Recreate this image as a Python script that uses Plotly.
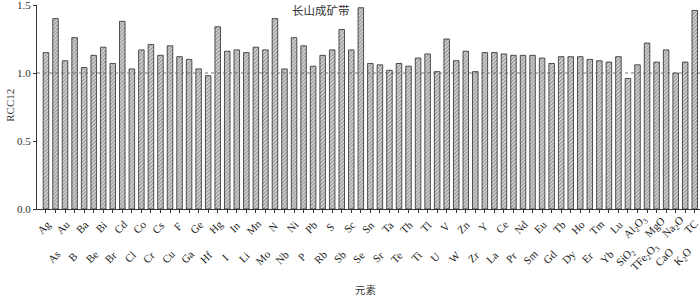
import plotly.graph_objects as go

elements = ["Ag", "As", "Au", "B", "Ba", "Be", "Bi", "Br", "Cd", "Cl", "Co", "Cr", "Cs", "Cu", "F", "Ga", "Ge", "Hf",
            "Hg", "I", "In", "Li", "Mn", "Mo", "N", "Nb", "Ni", "P", "Pb", "Rb", "S", "Sb", "Sc", "Se", "Sn", "Sr",
            "Ta", "Te", "Th", "Ti", "Tl", "U", "V", "W", "Zn", "Zr", "Y", "La", "Ce", "Pr", "Nd", "Sm", "Eu", "Gd",
            "Tb", "Dy", "Ho", "Er", "Tm", "Yb", "Lu", "SiO2", "Al2O3", "TFe2O3", "MgO", "CaO", "Na2O", "K2O", "TC"]

tick_labels = ["Ag", "As", "Au", "B", "Ba", "Be", "Bi", "Br", "Cd", "Cl", "Co", "Cr", "Cs", "Cu", "F", "Ga", "Ge", "Hf",
               "Hg", "I", "In", "Li", "Mn", "Mo", "N", "Nb", "Ni", "P", "Pb", "Rb", "S", "Sb", "Sc", "Se", "Sn", "Sr",
               "Ta", "Te", "Th", "Ti", "Tl", "U", "V", "W", "Zn", "Zr", "Y", "La", "Ce", "Pr", "Nd", "Sm", "Eu", "Gd",
               "Tb", "Dy", "Ho", "Er", "Tm", "Yb", "Lu", "SiO<sub>2</sub>", "Al<sub>2</sub>O<sub>3</sub>",
               "TFe<sub>2</sub>O<sub>3</sub>", "MgO", "CaO", "Na<sub>2</sub>O", "K<sub>2</sub>O", "TC"]

rcc12 = [1.15, 1.40, 1.09, 1.26, 1.04, 1.13, 1.19, 1.07, 1.38, 1.03, 1.17, 1.21, 1.13, 1.20, 1.12, 1.10, 1.03, 0.98,
         1.34, 1.16, 1.17, 1.15, 1.19, 1.17, 1.40, 1.03, 1.26, 1.20, 1.05, 1.13, 1.17, 1.32, 1.17, 1.48, 1.07, 1.06,
         1.02, 1.07, 1.05, 1.11, 1.14, 1.01, 1.25, 1.09, 1.16, 1.01, 1.15, 1.15, 1.14, 1.13, 1.13, 1.13, 1.11, 1.07,
         1.12, 1.12, 1.12, 1.10, 1.09, 1.08, 1.12, 0.96, 1.06, 1.22, 1.08, 1.17, 1.00, 1.08, 1.46]

reference_level = 1.0
title_text = "长山成矿带"
x_title = "元素"
y_title = "RCC12"

serif = "Liberation Serif, Times New Roman, serif"
cjk = "Noto Sans CJK SC"

x_idx = list(range(len(elements)))

fig = go.Figure()
fig.add_trace(go.Bar(
    x=x_idx, y=rcc12,
    width=0.58,
    marker=dict(
        color="#d0d0d0",
        line=dict(color="#2a2a2a", width=0.8),
        pattern=dict(shape="/", size=2.6, solidity=0.5, fgcolor="#3a3a3a", bgcolor="#e4e4e4"),
    ),
    showlegend=False,
    hovertext=elements,
))

fig.add_shape(type="line", xref="paper", yref="y", x0=0, x1=1, y0=reference_level, y1=reference_level,
              line=dict(color="#707070", width=1, dash="dot"))

annotations = []
n = len(tick_labels)
for i, lab in enumerate(tick_labels):
    upper = (i % 2 == 0)
    annotations.append(dict(
        x=i, y=-0.088 if upper else -0.235, xref="x", yref="paper",
        text=lab, showarrow=False, textangle=-45,
        xanchor="center", yanchor="middle", xshift=-4 if i == n - 1 else -2,
        font=dict(family=serif, size=11, color="#222"),
    ))
annotations.append(dict(x=0.428, y=0.975, xref="paper", yref="paper", text=title_text, showarrow=False,
                        xanchor="center", yanchor="middle", font=dict(family=cjk, size=11.5, color="#333")))
annotations.append(dict(x=0.495, y=-0.397, xref="paper", yref="paper", text=x_title, showarrow=False,
                        xanchor="center", yanchor="middle", font=dict(family=cjk, size=10.5, color="#333")))
annotations.append(dict(x=-0.041, y=0.51, xref="paper", yref="paper", text=y_title, showarrow=False,
                        textangle=-90, xanchor="center", yanchor="middle",
                        font=dict(family=serif, size=11, color="#333")))

fig.update_layout(
    width=700, height=296,
    margin=dict(l=37, r=0, t=5, b=87),
    plot_bgcolor="white", paper_bgcolor="white",
    annotations=annotations,
    xaxis=dict(range=[-0.94, 68.55], tickmode="array", tickvals=x_idx, ticktext=[""] * len(x_idx),
               ticks="outside", ticklen=3, tickwidth=1, tickcolor="#333",
               showline=True, linecolor="#333", linewidth=1, showgrid=False, zeroline=False, fixedrange=True,
               automargin=False),
    yaxis=dict(range=[0, 1.5], tickmode="array", tickvals=[0, 0.5, 1.0, 1.5], ticktext=["0.0", "0.5", "1.0", "1.5"],
               ticks="outside", ticklen=3, tickwidth=1, tickcolor="#333",
               tickfont=dict(family=serif, size=11, color="#333"), ticklabeloverflow="allow",
               showline=True, linecolor="#333", linewidth=1, showgrid=False, zeroline=False, automargin=False),
    bargap=0.4,
)

fig.write_html("out.html", config={"displayModeBar": False},
               post_script="document.body.style.margin='0';document.body.style.padding='0';")
